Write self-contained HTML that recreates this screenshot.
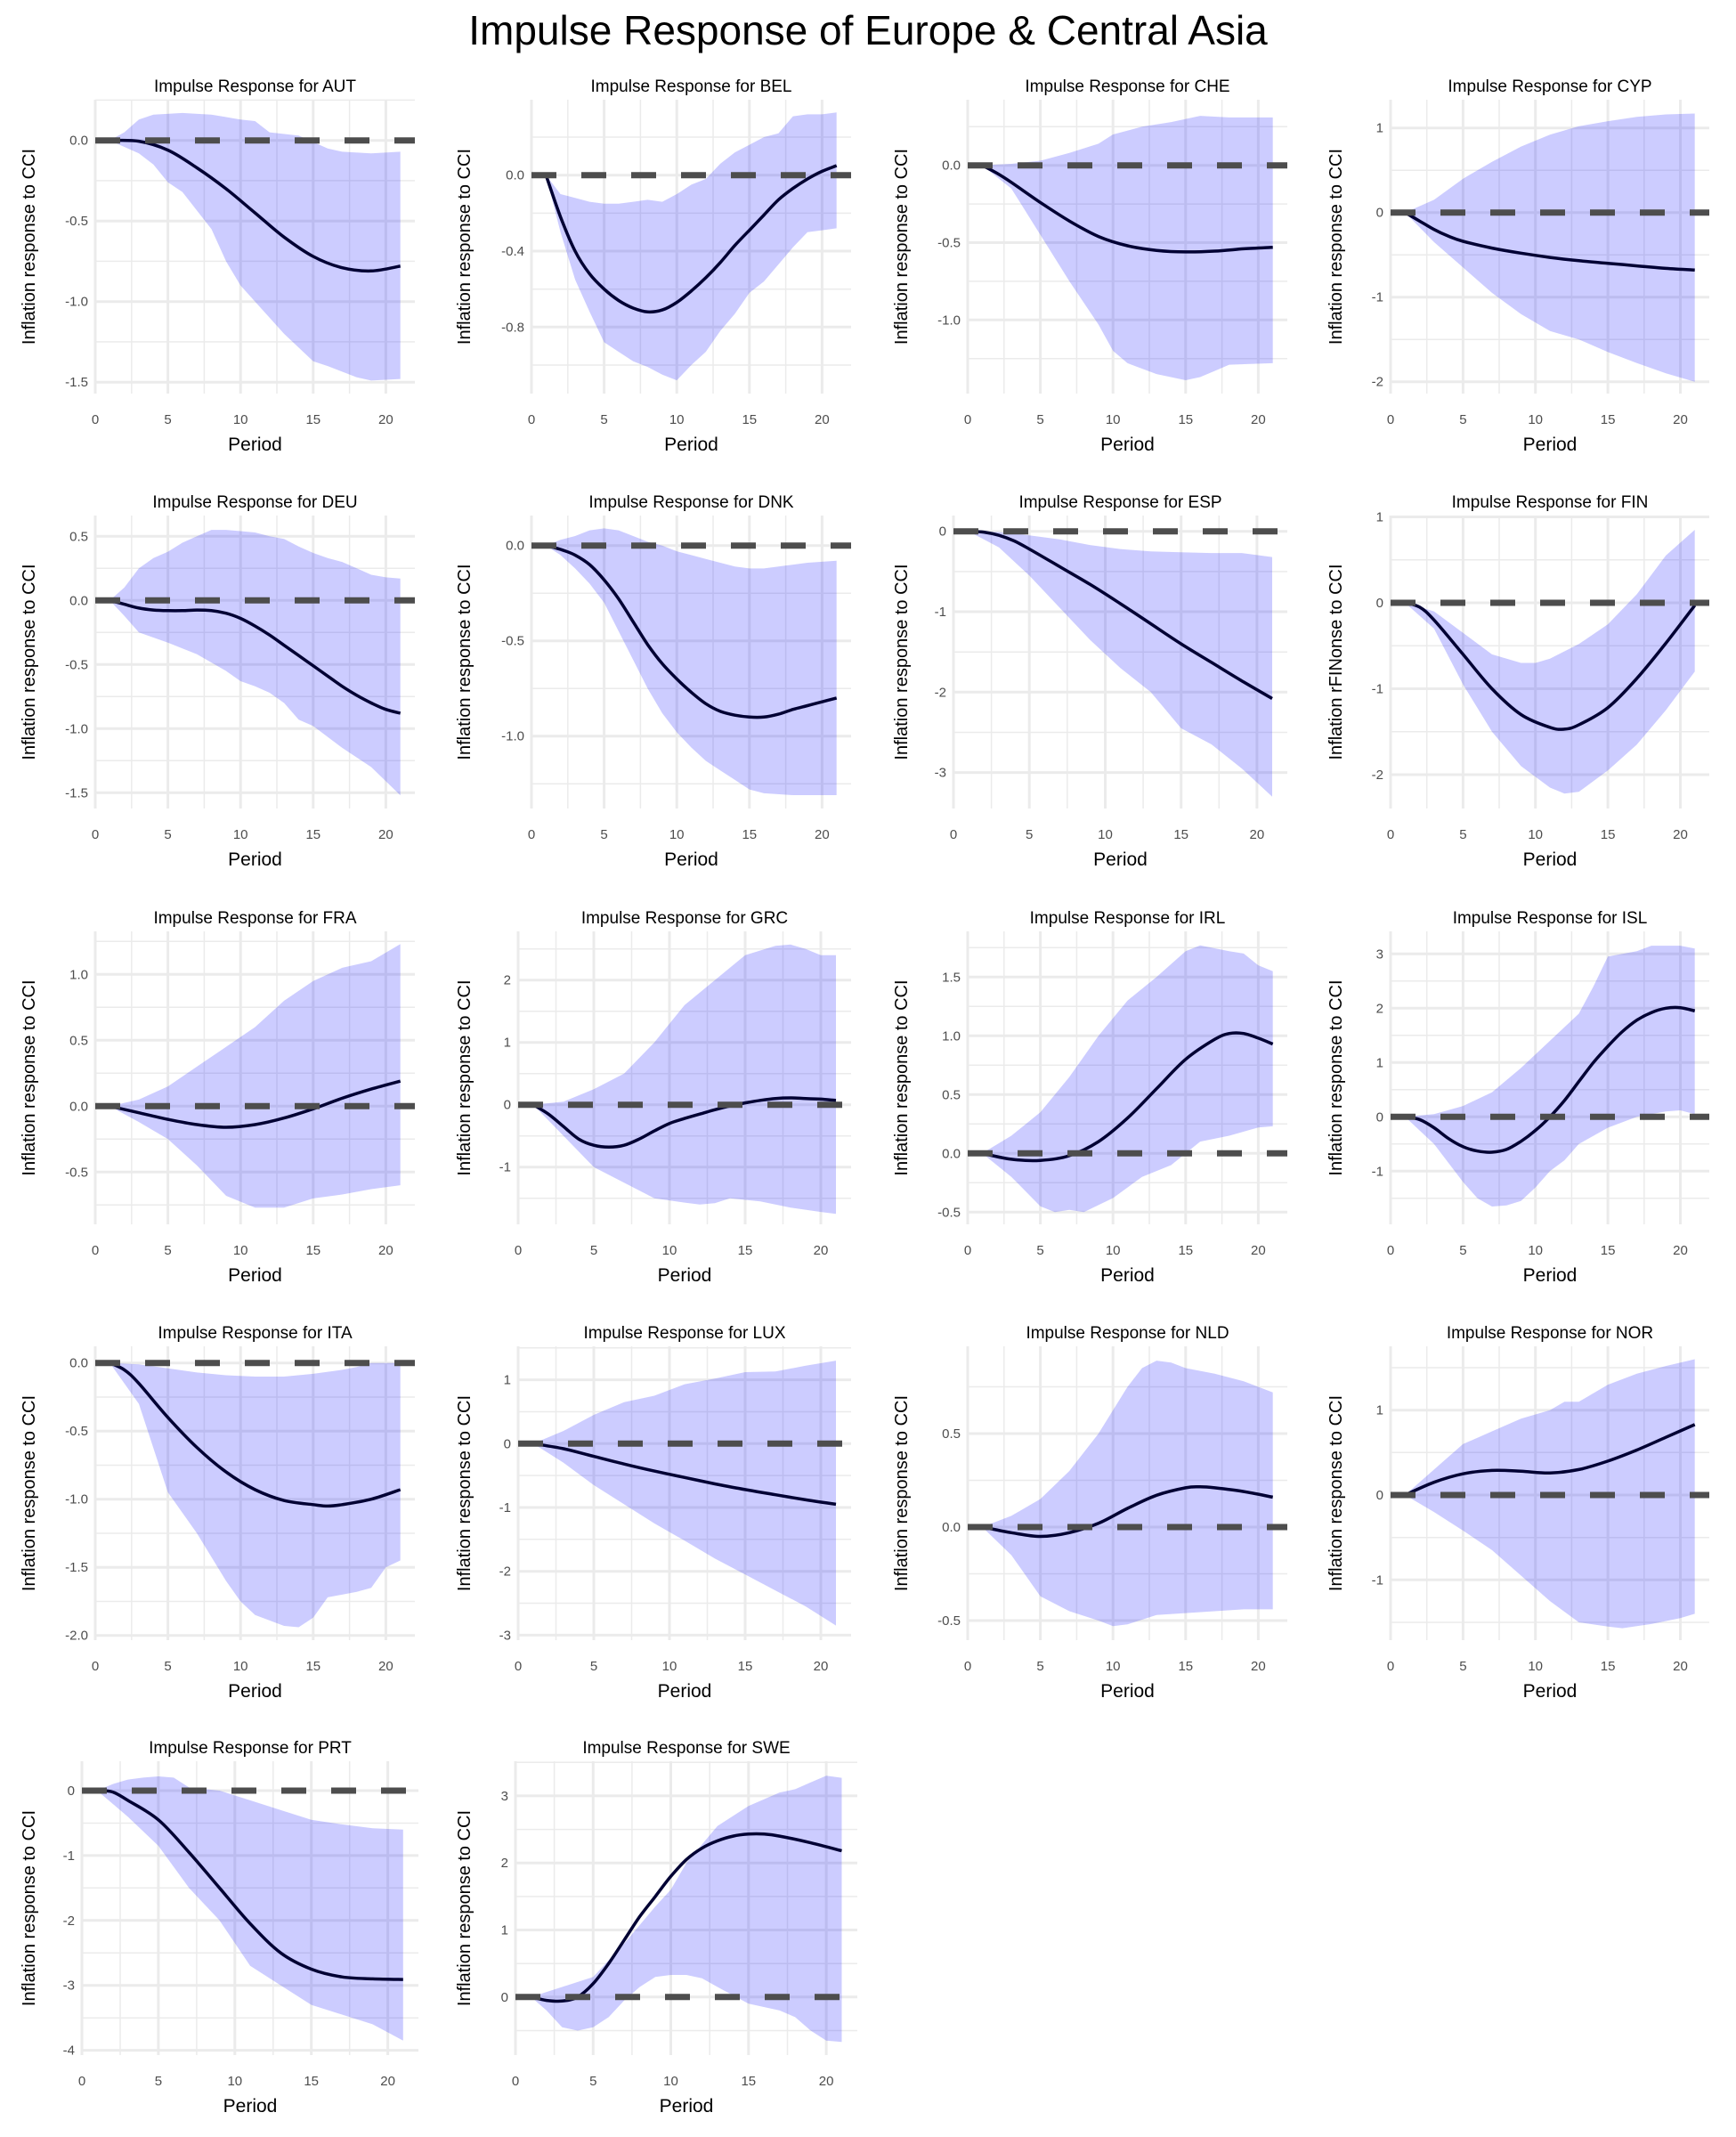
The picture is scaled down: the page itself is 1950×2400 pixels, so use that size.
<!DOCTYPE html>
<html><head><meta charset="utf-8"><style>
html,body{margin:0;padding:0;background:#fff;}
svg{display:block;font-family:"Liberation Sans",Arial,sans-serif;}
</style></head><body>
<svg id="s" width="1950" height="2400" viewBox="0 0 1950 2400" xmlns="http://www.w3.org/2000/svg">
<text x="975" y="50" font-size="46" text-anchor="middle" fill="#000">Impulse Response of Europe &amp; Central Asia</text>
</svg>
<script>
var R=[[112,442],[579,908],[1046,1375],[1512,1842],[1978,2308]];
var YT=[32,521,1012,1500];
var P=[
{n:"AUT",r:0,c:0,x0:107,x1:466,z:157.7,k:181,st:.5,d:1,
m:[[1,0],[3,-0.005],[5,-0.06],[7,-0.17],[9,-0.3],[11,-0.45],[13,-0.6],[15,-0.72],[17,-0.79],[19,-0.81],[21,-0.78]],
u:[[1,0],[2,0.05],[3,0.13],[4,0.16],[6,0.17],[8,0.16],[10,0.13],[11,0.12],[12,0.05],[14,0.03],[16,-0.05],[17,-0.07],[19,-0.08],[21,-0.07]],
l:[[1,0],[3,-0.08],[4,-0.15],[5,-0.26],[6,-0.32],[8,-0.55],[9,-0.75],[10,-0.9],[11,-1.0],[13,-1.2],[15,-1.37],[16,-1.4],[18,-1.47],[19,-1.49],[21,-1.48]]},
{n:"BEL",r:0,c:1,x0:597,x1:956,z:196.7,k:213.3,st:.4,d:1,
m:[[1,0],[2,-0.22],[3,-0.4],[4,-0.52],[5,-0.6],[6,-0.66],[7,-0.7],[8,-0.72],[9,-0.71],[10,-0.67],[11,-0.61],[12,-0.54],[13,-0.46],[14,-0.37],[15,-0.29],[16,-0.21],[17,-0.13],[18,-0.07],[19,-0.02],[20,0.02],[21,0.05]],
u:[[1,0],[2,-0.1],[3,-0.12],[4,-0.14],[5,-0.15],[6,-0.15],[7,-0.14],[8,-0.13],[9,-0.14],[10,-0.1],[11,-0.05],[12,-0.02],[13,0.06],[14,0.12],[15,0.16],[16,0.2],[17,0.22],[18,0.31],[19,0.32],[20,0.32],[21,0.33]],
l:[[1,0],[2,-0.3],[3,-0.55],[4,-0.72],[5,-0.88],[6,-0.93],[7,-0.98],[8,-1.01],[9,-1.05],[10,-1.08],[11,-1.0],[12,-0.93],[13,-0.82],[14,-0.73],[15,-0.62],[16,-0.56],[17,-0.47],[18,-0.38],[19,-0.3],[20,-0.29],[21,-0.28]]},
{n:"CHE",r:0,c:2,x0:1087,x1:1446,z:185.7,k:173.6,st:.5,d:1,
m:[[1,0],[2,-0.05],[3,-0.11],[5,-0.24],[7,-0.36],[9,-0.46],[11,-0.52],[13,-0.55],[15,-0.56],[17,-0.555],[19,-0.54],[21,-0.53]],
u:[[1,0],[3,0.01],[5,0.03],[7,0.08],[9,0.14],[10,0.2],[12,0.25],[14,0.28],[16,0.32],[18,0.31],[21,0.31]],
l:[[1,0],[3,-0.15],[5,-0.45],[7,-0.75],[9,-1.03],[10,-1.2],[11,-1.28],[13,-1.35],[15,-1.39],[16,-1.37],[17,-1.33],[18,-1.29],[21,-1.28]]},
{n:"CYP",r:0,c:3,x0:1562,x1:1920,z:238.7,k:95,st:1,d:0,
m:[[1,0],[2,-0.1],[3,-0.2],[4,-0.28],[5,-0.34],[7,-0.42],[9,-0.48],[11,-0.53],[13,-0.57],[15,-0.6],[17,-0.63],[19,-0.66],[21,-0.68]],
u:[[1,0],[3,0.15],[5,0.4],[7,0.6],[9,0.78],[11,0.92],[13,1.02],[15,1.08],[17,1.13],[19,1.16],[21,1.17]],
l:[[1,0],[3,-0.35],[5,-0.65],[7,-0.95],[9,-1.2],[11,-1.4],[13,-1.5],[15,-1.65],[17,-1.78],[19,-1.9],[21,-2.0]]},
{n:"DEU",r:1,c:0,x0:107,x1:466,z:674.3,k:144,st:.5,d:1,
m:[[1,0],[2,-0.03],[3,-0.06],[4,-0.075],[5,-0.08],[6,-0.08],[7,-0.075],[8,-0.08],[9,-0.1],[10,-0.14],[11,-0.2],[12,-0.27],[13,-0.35],[14,-0.43],[15,-0.51],[16,-0.59],[17,-0.67],[18,-0.74],[19,-0.8],[20,-0.85],[21,-0.88]],
u:[[1,0],[2,0.1],[3,0.25],[4,0.33],[5,0.38],[6,0.45],[7,0.5],[8,0.55],[9,0.55],[10,0.54],[11,0.53],[12,0.5],[13,0.48],[14,0.42],[15,0.37],[16,0.33],[17,0.3],[18,0.25],[19,0.2],[20,0.18],[21,0.17]],
l:[[1,0],[2,-0.12],[3,-0.25],[5,-0.33],[7,-0.42],[9,-0.55],[10,-0.63],[11,-0.67],[12,-0.72],[13,-0.8],[14,-0.93],[15,-0.98],[17,-1.15],[19,-1.3],[21,-1.52]]},
{n:"DNK",r:1,c:1,x0:597,x1:956,z:612.7,k:214,st:.5,d:1,
m:[[1,0],[2,-0.02],[3,-0.05],[4,-0.1],[5,-0.18],[6,-0.28],[7,-0.4],[8,-0.52],[9,-0.62],[10,-0.7],[11,-0.77],[12,-0.83],[13,-0.87],[14,-0.89],[15,-0.9],[16,-0.9],[17,-0.885],[18,-0.86],[19,-0.84],[20,-0.82],[21,-0.8]],
u:[[1,0],[2,0.03],[3,0.05],[4,0.08],[5,0.09],[6,0.08],[7,0.05],[8,0.02],[9,0],[10,-0.03],[11,-0.05],[12,-0.07],[13,-0.09],[14,-0.11],[15,-0.12],[16,-0.12],[17,-0.11],[19,-0.09],[21,-0.08]],
l:[[1,0],[2,-0.05],[3,-0.12],[4,-0.2],[5,-0.3],[6,-0.45],[7,-0.6],[8,-0.75],[9,-0.88],[10,-0.98],[11,-1.06],[12,-1.13],[13,-1.18],[14,-1.23],[15,-1.28],[16,-1.3],[18,-1.31],[21,-1.31]]},
{n:"ESP",r:1,c:2,x0:1071,x1:1446,z:596.7,k:90.3,st:1,d:0,
m:[[1,0],[2,-0.01],[3,-0.05],[4,-0.12],[5,-0.22],[7,-0.44],[9,-0.66],[11,-0.9],[13,-1.15],[15,-1.4],[17,-1.63],[19,-1.86],[21,-2.08]],
u:[[1,0],[3,-0.01],[5,-0.05],[7,-0.1],[9,-0.17],[11,-0.22],[13,-0.25],[15,-0.26],[17,-0.27],[19,-0.27],[21,-0.32]],
l:[[1,0],[3,-0.2],[5,-0.55],[7,-0.95],[9,-1.35],[11,-1.7],[13,-2.0],[15,-2.45],[17,-2.65],[19,-2.95],[21,-3.3]]},
{n:"FIN",r:1,c:3,x0:1562,x1:1920,z:677,k:96.5,st:1,d:0,yl:"Inflation rFINonse to CCI",
m:[[1,0],[2,-0.05],[3,-0.2],[5,-0.6],[7,-1.0],[9,-1.3],[11,-1.45],[12,-1.47],[13,-1.42],[15,-1.22],[17,-0.88],[19,-0.47],[21,-0.03]],
u:[[1,0],[3,-0.1],[5,-0.35],[7,-0.6],[9,-0.7],[10,-0.7],[11,-0.65],[13,-0.48],[15,-0.25],[17,0.1],[19,0.55],[21,0.85]],
l:[[1,0],[3,-0.3],[5,-0.95],[7,-1.5],[9,-1.9],[11,-2.15],[12,-2.22],[13,-2.2],[15,-1.95],[17,-1.65],[19,-1.25],[21,-0.8]]},
{n:"FRA",r:2,c:0,x0:107,x1:466,z:1242.3,k:148,st:.5,d:1,
m:[[1,0],[3,-0.05],[5,-0.1],[7,-0.14],[9,-0.16],[11,-0.14],[13,-0.09],[15,-0.02],[17,0.06],[19,0.13],[21,0.19]],
u:[[1,0],[3,0.05],[5,0.15],[7,0.3],[9,0.45],[11,0.6],[13,0.8],[15,0.95],[17,1.05],[19,1.1],[21,1.23]],
l:[[1,0],[3,-0.12],[5,-0.25],[7,-0.45],[9,-0.68],[11,-0.77],[13,-0.77],[15,-0.7],[17,-0.67],[19,-0.63],[21,-0.6]]},
{n:"GRC",r:2,c:1,x0:582,x1:956,z:1240.7,k:70,st:1,d:0,
m:[[1,0],[2,-0.15],[3,-0.35],[4,-0.55],[5,-0.65],[6,-0.68],[7,-0.65],[8,-0.55],[9,-0.42],[10,-0.3],[11,-0.22],[12,-0.15],[13,-0.08],[14,-0.02],[15,0.03],[16,0.07],[17,0.1],[18,0.11],[19,0.1],[20,0.09],[21,0.07]],
u:[[1,0],[3,0.05],[5,0.25],[7,0.5],[9,1.0],[11,1.6],[13,2.0],[15,2.4],[17,2.55],[18,2.57],[19,2.5],[20,2.4],[21,2.4]],
l:[[1,0],[3,-0.5],[5,-1.0],[7,-1.25],[9,-1.5],[11,-1.57],[12,-1.6],[13,-1.58],[14,-1.5],[16,-1.55],[18,-1.65],[20,-1.72],[21,-1.75]]},
{n:"IRL",r:2,c:2,x0:1087,x1:1446,z:1295.3,k:132,st:.5,d:1,
m:[[1,0],[3,-0.05],[5,-0.06],[7,-0.02],[9,0.1],[11,0.3],[13,0.55],[15,0.8],[17,0.97],[18,1.02],[19,1.02],[20,0.98],[21,0.93]],
u:[[1,0],[3,0.15],[5,0.35],[7,0.65],[9,1.0],[11,1.3],[13,1.5],[15,1.72],[16,1.77],[18,1.72],[19,1.7],[20,1.6],[21,1.55]],
l:[[1,0],[3,-0.2],[5,-0.45],[6,-0.5],[7,-0.48],[8,-0.5],[10,-0.38],[12,-0.2],[14,-0.1],[16,0.1],[18,0.15],[20,0.22],[21,0.23]]},
{n:"ISL",r:2,c:3,x0:1562,x1:1920,z:1254.3,k:61,st:1,d:0,
m:[[1,0],[2,-0.05],[3,-0.2],[4,-0.4],[5,-0.55],[6,-0.63],[7,-0.65],[8,-0.6],[9,-0.45],[10,-0.25],[11,0.0],[12,0.3],[13,0.65],[14,1.0],[15,1.3],[16,1.57],[17,1.78],[18,1.92],[19,2.0],[20,2.01],[21,1.95]],
u:[[1,0],[3,0.05],[5,0.2],[7,0.45],[9,0.9],[11,1.4],[13,1.9],[14,2.4],[15,2.95],[17,3.05],[18,3.15],[20,3.15],[21,3.1]],
l:[[1,0],[3,-0.5],[5,-1.2],[6,-1.5],[7,-1.65],[8,-1.63],[9,-1.55],[10,-1.3],[11,-1.0],[12,-0.8],[13,-0.5],[15,-0.2],[17,0.0],[19,0.1],[20,0.12],[21,0.05]]},
{n:"ITA",r:3,c:0,x0:107,x1:466,z:1530.7,k:153,st:.5,d:1,
m:[[1,0],[2,-0.05],[3,-0.15],[5,-0.4],[7,-0.62],[9,-0.8],[11,-0.93],[13,-1.01],[15,-1.04],[16,-1.05],[17,-1.04],[19,-1.0],[21,-0.93]],
u:[[1,0],[3,-0.01],[5,-0.04],[7,-0.07],[9,-0.09],[11,-0.1],[13,-0.1],[15,-0.08],[17,-0.05],[18,-0.03],[19,0],[21,0]],
l:[[1,0],[3,-0.3],[5,-0.95],[7,-1.25],[9,-1.6],[10,-1.75],[11,-1.85],[13,-1.93],[14,-1.94],[15,-1.87],[16,-1.72],[18,-1.68],[19,-1.65],[20,-1.5],[21,-1.45]]},
{n:"LUX",r:3,c:1,x0:582,x1:956,z:1621.3,k:71.7,st:1,d:0,
m:[[1,0],[3,-0.08],[5,-0.2],[7,-0.32],[9,-0.43],[11,-0.53],[13,-0.63],[15,-0.72],[17,-0.8],[19,-0.88],[21,-0.95]],
u:[[1,0],[3,0.2],[5,0.45],[7,0.65],[9,0.75],[11,0.93],[13,1.02],[15,1.12],[17,1.13],[19,1.22],[21,1.3]],
l:[[1,0],[3,-0.3],[5,-0.65],[7,-0.95],[9,-1.25],[11,-1.52],[13,-1.8],[15,-2.05],[17,-2.3],[19,-2.55],[21,-2.85]]},
{n:"NLD",r:3,c:2,x0:1087,x1:1446,z:1715,k:210,st:.5,d:1,
m:[[1,0],[3,-0.03],[5,-0.05],[7,-0.03],[9,0.02],[11,0.1],[13,0.17],[15,0.21],[16,0.215],[17,0.21],[19,0.19],[21,0.16]],
u:[[1,0],[3,0.06],[5,0.15],[7,0.3],[9,0.5],[11,0.75],[12,0.85],[13,0.89],[14,0.88],[15,0.85],[17,0.82],[19,0.78],[21,0.72]],
l:[[1,0],[3,-0.15],[5,-0.37],[7,-0.45],[9,-0.5],[10,-0.53],[11,-0.52],[13,-0.47],[15,-0.46],[17,-0.45],[19,-0.44],[21,-0.44]]},
{n:"NOR",r:3,c:3,x0:1562,x1:1920,z:1679,k:95.3,st:1,d:0,
m:[[1,0],[3,0.15],[5,0.25],[7,0.29],[9,0.28],[11,0.26],[13,0.3],[15,0.4],[17,0.53],[19,0.68],[21,0.83]],
u:[[1,0],[3,0.3],[5,0.6],[7,0.75],[9,0.9],[11,1.0],[12,1.1],[13,1.1],[15,1.3],[17,1.43],[19,1.52],[21,1.6]],
l:[[1,0],[3,-0.2],[5,-0.42],[7,-0.65],[9,-0.95],[11,-1.25],[13,-1.5],[15,-1.55],[16,-1.57],[18,-1.52],[20,-1.45],[21,-1.4]]},
{n:"PRT",r:4,c:0,x0:92,x1:470,z:2011,k:72.9,st:1,d:0,
m:[[1,0],[2,-0.02],[3,-0.15],[5,-0.45],[7,-0.95],[9,-1.5],[11,-2.05],[13,-2.5],[15,-2.75],[17,-2.87],[19,-2.9],[21,-2.91]],
u:[[1,0],[2,0.1],[3,0.17],[4,0.2],[5,0.22],[6,0.2],[7,0.05],[9,0.0],[11,-0.15],[13,-0.3],[15,-0.45],[17,-0.52],[19,-0.58],[21,-0.6]],
l:[[1,0],[3,-0.4],[5,-0.85],[7,-1.5],[9,-2.0],[11,-2.7],[13,-3.0],[15,-3.3],[17,-3.45],[19,-3.6],[21,-3.85]]},
{n:"SWE",r:4,c:1,x0:579,x1:963,z:2242.8,k:75.3,st:1,d:0,
m:[[1,0],[2,-0.05],[3,-0.06],[4,0.0],[5,0.2],[6,0.5],[7,0.85],[8,1.2],[9,1.5],[10,1.8],[11,2.05],[12,2.22],[13,2.33],[14,2.4],[15,2.43],[16,2.43],[17,2.4],[19,2.3],[21,2.18]],
u:[[1,0],[3,0.15],[5,0.3],[7,0.8],[9,1.35],[10,1.6],[11,2.0],[13,2.55],[15,2.85],[17,3.05],[18,3.1],[19,3.2],[20,3.3],[21,3.27]],
l:[[1,0],[2,-0.2],[3,-0.45],[4,-0.5],[5,-0.45],[6,-0.3],[7,-0.05],[8,0.15],[9,0.3],[10,0.33],[11,0.33],[12,0.28],[13,0.15],[15,-0.1],[17,-0.2],[18,-0.3],[19,-0.5],[20,-0.65],[21,-0.67]]}
];
var svg=document.getElementById('s'),h='';
function cr(pts){ // catmull-rom smooth path
  var s='M'+pts[0][0].toFixed(1)+','+pts[0][1].toFixed(1);
  for(var i=0;i<pts.length-1;i++){
    var p0=pts[i-1]||pts[i],p1=pts[i],p2=pts[i+1],p3=pts[i+2]||p2;
    var c1x=p1[0]+(p2[0]-p0[0])/6,c1y=p1[1]+(p2[1]-p0[1])/6,c2x=p2[0]-(p3[0]-p1[0])/6,c2y=p2[1]-(p3[1]-p1[1])/6;
    s+=' C'+c1x.toFixed(1)+','+c1y.toFixed(1)+' '+c2x.toFixed(1)+','+c2y.toFixed(1)+' '+p2[0].toFixed(1)+','+p2[1].toFixed(1);
  }
  return s;
}
P.forEach(function(p){
  var y0=R[p.r][0],y1=R[p.r][1],sx=(p.x1-p.x0)/22;
  var X=function(t){return p.x0+t*sx;},Y=function(v){return p.z-v*p.k;};
  var vt=(p.z-y0)/p.k,vb=(p.z-y1)/p.k,hs=p.st/2;
  // horizontal grid
  for(var i=Math.ceil(vb/hs-1e-6);i<=Math.floor(vt/hs+1e-6);i++){
    var v=i*hs,yy=Y(v),maj=(i%2===0);
    h+='<line x1="'+p.x0+'" x2="'+p.x1+'" y1="'+yy.toFixed(1)+'" y2="'+yy.toFixed(1)+'" stroke="#ebebeb" stroke-width="'+(maj?3:1.5)+'"/>';
    if(maj){var lab=(Math.abs(v)<1e-9?0:v).toFixed(p.d);
      h+='<text x="'+(p.x0-8)+'" y="'+(yy+5).toFixed(1)+'" font-size="15" fill="#4d4d4d" text-anchor="end">'+lab+'</text>';}
  }
  for(var t=0;t<=22;t+=2.5){var xx=X(t),maj=(t%5===0);
    h+='<line x1="'+xx.toFixed(1)+'" x2="'+xx.toFixed(1)+'" y1="'+y0+'" y2="'+y1+'" stroke="#ebebeb" stroke-width="'+(maj?3:1.5)+'"/>';
    if(maj)h+='<text x="'+xx.toFixed(1)+'" y="'+(y1+34)+'" font-size="15" fill="#4d4d4d" text-anchor="middle">'+t+'</text>';}
  // band
  var poly=p.u.map(function(a){return X(a[0]).toFixed(1)+','+Y(a[1]).toFixed(1);}).concat(p.l.slice().reverse().map(function(a){return X(a[0]).toFixed(1)+','+Y(a[1]).toFixed(1);}));
  h+='<polygon points="'+poly.join(' ')+'" fill="#0000ff" fill-opacity="0.2"/>';
  // mean
  h+='<path d="'+cr(p.m.map(function(a){return [X(a[0]),Y(a[1])];}))+'" fill="none" stroke="#000033" stroke-width="3.5"/>';
  // zero dashed
  h+='<line x1="'+p.x0+'" x2="'+p.x1+'" y1="'+Y(0).toFixed(1)+'" y2="'+Y(0).toFixed(1)+'" stroke="#4d4d4d" stroke-width="7" stroke-dasharray="28 28"/>';
  var cx=(p.x0+p.x1)/2;
  h+='<text x="'+cx+'" y="'+(y0-9)+'" font-size="19" text-anchor="middle" fill="#000">Impulse Response for '+p.n+'</text>';
  h+='<text x="'+cx+'" y="'+(y1+64)+'" font-size="21" text-anchor="middle" fill="#000">Period</text>';
  var ty=(y0+y1)/2,tx=YT[p.c]+7;
  h+='<text transform="translate('+tx+','+ty+') rotate(-90)" font-size="20" text-anchor="middle" fill="#000">'+(p.yl||'Inflation response to CCI')+'</text>';
});
svg.insertAdjacentHTML('beforeend',h);
</script>
</body></html>
